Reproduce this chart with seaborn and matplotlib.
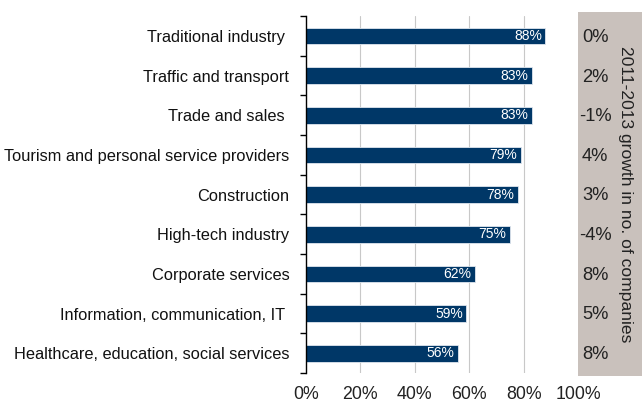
import numpy as np
import pandas as pd
import matplotlib
matplotlib.use('Agg')
import matplotlib.pyplot as plt
import seaborn as sns

sectors = ['Traditional industry ', 'Traffic and transport', 'Trade and sales ',
           'Tourism and personal service providers', 'Construction', 'High-tech industry',
           'Corporate services', 'Information, communication, IT ',
           'Healthcare, education, social services']
share = [88, 83, 83, 79, 78, 75, 62, 59, 56]
growth = ['0%', '2%', '-1%', '4%', '3%', '-4%', '8%', '5%', '8%']
xticks = [0, 20, 40, 60, 80, 100]

sns.set_theme(style="white")
plt.rcParams['font.family'] = ['Liberation Sans', 'DejaVu Sans']

df = pd.DataFrame({'sector': sectors, 'share': share})

fig = plt.figure(figsize=(6.42, 4.01), dpi=100)
ax = fig.add_axes([0.4766, 0.0698, 0.4237, 0.890])

sns.barplot(data=df, x='share', y='sector', orient='h', color='#003767',
            saturation=1, width=0.42, edgecolor='#dfe6ee', linewidth=0.6, ax=ax)

ax.set_xlim(0, 100)
ax.set_ylim(len(sectors) - 0.5, -0.5)
ax.set_xticks(xticks)
ax.set_xticklabels([f'{t}%' for t in xticks], fontsize=12.8, color='#222222')
ax.tick_params(axis='x', length=0, pad=9)
ax.set_xlabel('')
ax.set_ylabel('')
for t in xticks[1:-1]:
    ax.axvline(t, color='#c8c8c8', linewidth=0.8, zorder=0)

ax.set_yticks(range(len(sectors)))
ax.set_yticklabels(sectors, fontsize=11.8, color='#111111')
ax.set_yticks(np.arange(-0.5, len(sectors), 1), minor=True)
ax.tick_params(axis='y', which='major', length=0, pad=12)
ax.tick_params(axis='y', which='minor', length=4, width=1, color='black', left=True)

for s in ['top', 'right', 'bottom']:
    ax.spines[s].set_visible(False)
ax.spines['left'].set_color('black')
ax.spines['left'].set_linewidth(1)

for i, v in enumerate(share):
    ax.text(v - 1.3, i, f'{v}%', color='white', fontsize=10, ha='right', va='center')

# growth panel
pax = fig.add_axes([578 / 642, 1 - 376 / 401, 64 / 642, 364 / 401])
pax.set_facecolor('#c9c1bc')
pax.set_xlim(0, 1)
pax.set_ylim(len(sectors) - 0.5 + 0.1, -0.5 - 0.1)
pax.set_xticks([])
pax.set_yticks([])
for s in pax.spines.values():
    s.set_visible(False)
for i, g in enumerate(growth):
    pax.text(0.27, i + 0.05, g, fontsize=13.2, color='#222222', ha='center', va='center')
pax.text(0.74, 0.5, '2011-2013 growth in no. of companies', transform=pax.transAxes,
         rotation=270, fontsize=12.6, color='#222222', ha='center', va='center')

plt.savefig('out.png', dpi=100)
plt.close()
